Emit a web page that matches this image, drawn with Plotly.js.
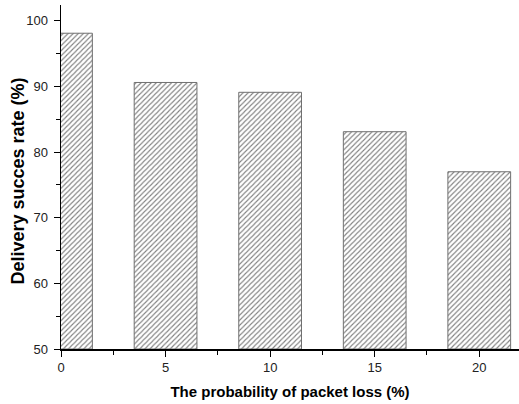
<!DOCTYPE html>
<html>
<head>
<meta charset="utf-8">
<script src="https://cdn.plot.ly/plotly-3.0.1.min.js"></script>
<style>html,body{margin:0;padding:0;background:#fff;}#chart{width:519px;height:404px;}</style>
</head>
<body>
<div id="chart"></div>
<script>
const lossProb = [0, 5, 10, 15, 20];
const successRate = [98.1, 90.6, 89.1, 83.1, 77.0];
const yTickVals = [50, 60, 70, 80, 90, 100];
const xTickVals = [0, 5, 10, 15, 20];
const baseValue = 50;

const trace = {
  type: 'bar',
  x: lossProb,
  y: successRate.map(v => v - baseValue),
  base: baseValue,
  width: 3,
  marker: {
    color: '#ffffff',
    line: {color: '#707070', width: 1},
    pattern: {shape: '/', fgcolor: '#808080', bgcolor: '#ffffff', size: 3.6, solidity: 0.3}
  },
  hoverinfo: 'skip'
};

const layout = {
  width: 519, height: 404,
  margin: {l: 61, r: 0, t: 5, b: 55},
  paper_bgcolor: '#fff', plot_bgcolor: '#fff',
  showlegend: false,
  font: {family: 'Liberation Sans, Arial, sans-serif', color: '#222'},
  xaxis: {
    range: [0, 21.9],
    tickvals: xTickVals,
    ticktext: xTickVals.map(String),
    ticks: 'outside', ticklen: 6, tickwidth: 1, tickcolor: '#000',
    minor: {tickvals: [2.5, 7.5, 12.5, 17.5], ticks: 'outside', ticklen: 4, tickcolor: '#000'},
    showline: true, linecolor: '#000', linewidth: 1.5,
    showgrid: false, zeroline: false,
    tickfont: {size: 13, color: '#222'},
    title: {text: 'The probability of packet loss (%)', font: {size: 15, color: '#000', family: 'Liberation Sans, Arial, sans-serif', weight: 'bold'}, standoff: 12}
  },
  yaxis: {
    range: [50, 102.4],
    tickvals: yTickVals,
    ticktext: yTickVals.map(String),
    ticks: 'outside', ticklen: 6, tickwidth: 1, tickcolor: '#000',
    ticklabelstandoff: 3,
    minor: {tickvals: [55, 65, 75, 85, 95], ticks: 'outside', ticklen: 4, tickcolor: '#000'},
    showline: true, linecolor: '#000', linewidth: 1.5,
    showgrid: false, zeroline: false,
    tickfont: {size: 13, color: '#222'}
  },
  annotations: [{
    text: 'Delivery succes rate (%)',
    xref: 'paper', yref: 'paper',
    x: (17 - 61) / 458, y: (349 - 181.5) / 344,
    xanchor: 'center', yanchor: 'middle',
    textangle: -90, showarrow: false,
    font: {size: 18, color: '#000', family: 'Liberation Sans, Arial, sans-serif', weight: 'bold'}
  }]
};

Plotly.newPlot('chart', [trace], layout, {displayModeBar: false, staticPlot: true});
</script>
</body>
</html>
